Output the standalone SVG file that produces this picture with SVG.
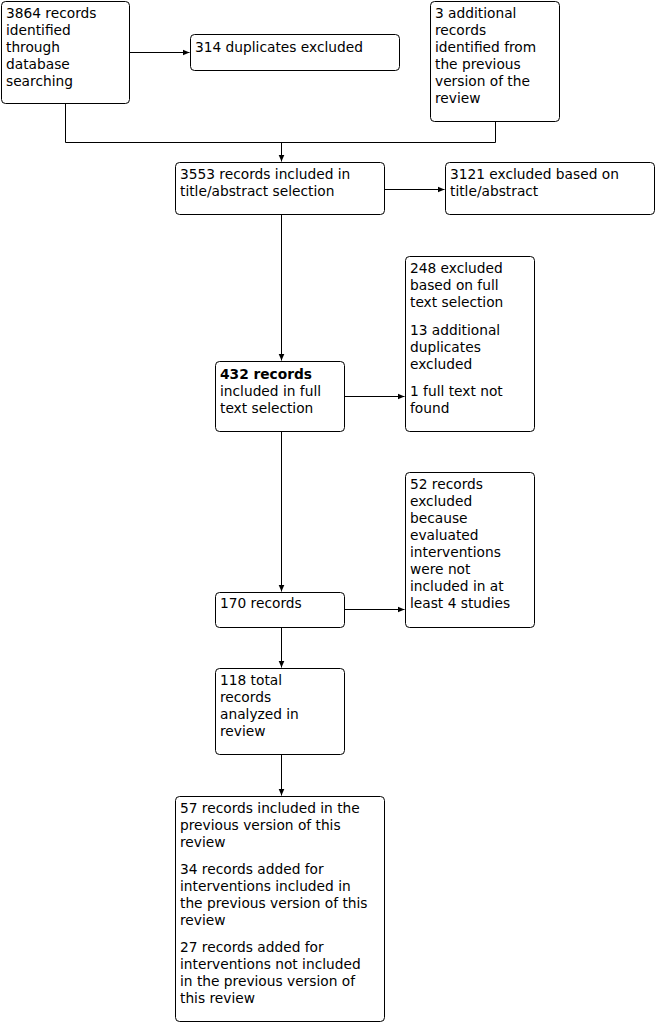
<svg xmlns="http://www.w3.org/2000/svg" width="658" height="1023" viewBox="0 0 658 1023">
<style>
  .box { fill: #ffffff; stroke: #000000; stroke-width: 1; }
  .t { font-family: "DejaVu Sans", Verdana, sans-serif; font-size: 13.75px; fill: #000000; }
  .b { font-weight: bold; }
  .c { fill: none; stroke: #000000; stroke-width: 1; }
</style>
<defs>
  <marker id="arr" markerWidth="8" markerHeight="8" refX="7" refY="4" orient="auto" markerUnits="userSpaceOnUse">
    <path d="M0,1 L7,4 L0,7 Z" fill="#000000"/>
  </marker>
</defs>
<rect width="658" height="1023" fill="#ffffff"/>

<g id="connectors">
  <line class="c" x1="130" y1="52.5" x2="189.5" y2="52.5" marker-end="url(#arr)"/>
  <polyline class="c" points="65.5,103 65.5,142.5 495.5,142.5 495.5,121"/>
  <line class="c" x1="281.5" y1="142.5" x2="281.5" y2="161.5" marker-end="url(#arr)"/>
  <line class="c" x1="385" y1="189.5" x2="444.5" y2="189.5" marker-end="url(#arr)"/>
  <line class="c" x1="281.5" y1="214" x2="281.5" y2="360.5" marker-end="url(#arr)"/>
  <line class="c" x1="345" y1="396.5" x2="404.5" y2="396.5" marker-end="url(#arr)"/>
  <line class="c" x1="281.5" y1="431" x2="281.5" y2="591.5" marker-end="url(#arr)"/>
  <line class="c" x1="345" y1="609.5" x2="404.5" y2="609.5" marker-end="url(#arr)"/>
  <line class="c" x1="281.5" y1="627" x2="281.5" y2="667.5" marker-end="url(#arr)"/>
  <line class="c" x1="281.5" y1="754" x2="281.5" y2="795.5" marker-end="url(#arr)"/>
</g>

<g id="n1">
  <rect class="box" x="1.5" y="1.5" width="128" height="102" rx="4"/>
  <text class="t" x="6" y="18">3864 records</text>
  <text class="t" x="6" y="35">identified</text>
  <text class="t" x="6" y="52">through</text>
  <text class="t" x="6" y="69">database</text>
  <text class="t" x="6" y="86">searching</text>
</g>

<g id="n2">
  <rect class="box" x="190.5" y="34.5" width="209" height="36" rx="4"/>
  <text class="t" x="195" y="52">314 duplicates excluded</text>
</g>

<g id="n3">
  <rect class="box" x="430.5" y="1.5" width="129" height="120" rx="4"/>
  <text class="t" x="435" y="18">3 additional</text>
  <text class="t" x="435" y="35">records</text>
  <text class="t" x="435" y="52">identified from</text>
  <text class="t" x="435" y="69">the previous</text>
  <text class="t" x="435" y="86">version of the</text>
  <text class="t" x="435" y="103">review</text>
</g>

<g id="n4">
  <rect class="box" x="175.5" y="162.5" width="209" height="52" rx="4"/>
  <text class="t" x="180" y="179">3553 records included in</text>
  <text class="t" x="180" y="196">title/abstract selection</text>
</g>

<g id="n5">
  <rect class="box" x="445.5" y="162.5" width="209" height="52" rx="4"/>
  <text class="t" x="450" y="179">3121 excluded based on</text>
  <text class="t" x="450" y="196">title/abstract</text>
</g>

<g id="n6">
  <rect class="box" x="405.5" y="256.5" width="129" height="175" rx="4"/>
  <text class="t" x="410" y="273">248 excluded</text>
  <text class="t" x="410" y="290">based on full</text>
  <text class="t" x="410" y="307">text selection</text>
  <text class="t" x="410" y="335">13 additional</text>
  <text class="t" x="410" y="352">duplicates</text>
  <text class="t" x="410" y="369">excluded</text>
  <text class="t" x="410" y="396">1 full text not</text>
  <text class="t" x="410" y="413">found</text>
</g>

<g id="n7">
  <rect class="box" x="215.5" y="361.5" width="129" height="70" rx="4"/>
  <text class="t b" x="220" y="379">432 records</text>
  <text class="t" x="220" y="396">included in full</text>
  <text class="t" x="220" y="413">text selection</text>
</g>

<g id="n8">
  <rect class="box" x="405.5" y="472.5" width="129" height="155" rx="4"/>
  <text class="t" x="410" y="489">52 records</text>
  <text class="t" x="410" y="506">excluded</text>
  <text class="t" x="410" y="523">because</text>
  <text class="t" x="410" y="540">evaluated</text>
  <text class="t" x="410" y="557">interventions</text>
  <text class="t" x="410" y="574">were not</text>
  <text class="t" x="410" y="591">included in at</text>
  <text class="t" x="410" y="608">least 4 studies</text>
</g>

<g id="n9">
  <rect class="box" x="215.5" y="592.5" width="129" height="35" rx="4"/>
  <text class="t" x="220" y="608">170 records</text>
</g>

<g id="n10">
  <rect class="box" x="215.5" y="668.5" width="129" height="86" rx="4"/>
  <text class="t" x="220" y="685">118 total</text>
  <text class="t" x="220" y="702">records</text>
  <text class="t" x="220" y="719">analyzed in</text>
  <text class="t" x="220" y="736">review</text>
</g>

<g id="n11">
  <rect class="box" x="175.5" y="796.5" width="209" height="225" rx="4"/>
  <text class="t" x="180" y="813">57 records included in the</text>
  <text class="t" x="180" y="830">previous version of this</text>
  <text class="t" x="180" y="847">review</text>
  <text class="t" x="180" y="874">34 records added for</text>
  <text class="t" x="180" y="891">interventions included in</text>
  <text class="t" x="180" y="908">the previous version of this</text>
  <text class="t" x="180" y="925">review</text>
  <text class="t" x="180" y="952">27 records added for</text>
  <text class="t" x="180" y="969">interventions not included</text>
  <text class="t" x="180" y="986">in the previous version of</text>
  <text class="t" x="180" y="1003">this review</text>
</g>
</svg>
